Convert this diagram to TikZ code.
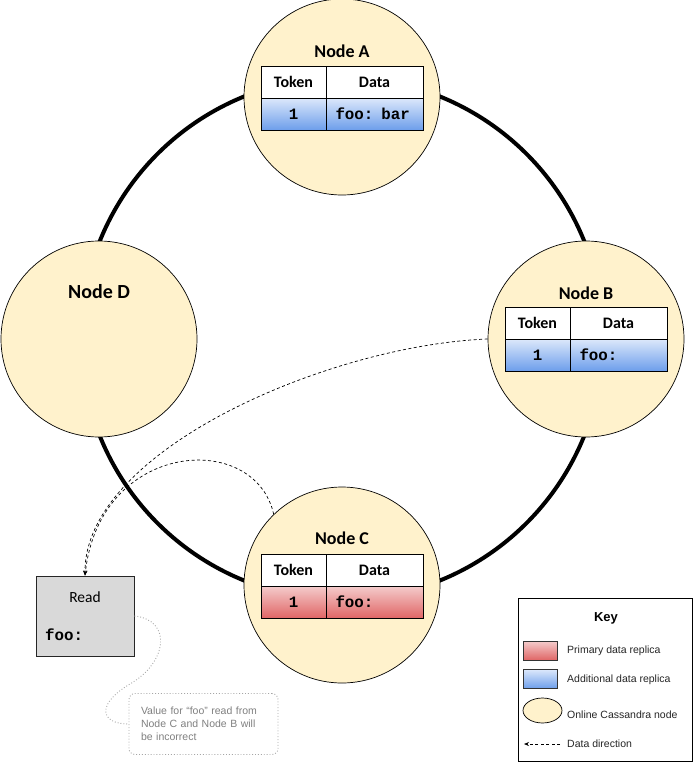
\documentclass[tikz,border=0pt]{standalone}
\usepackage{fontspec}
\setmainfont{Carlito}
\setmonofont{Liberation Mono}
\newfontfamily\arialf{Liberation Sans}
\usetikzlibrary{arrows.meta,shapes.geometric}
\definecolor{nodefill}{HTML}{FFF2CC}
\definecolor{bluetop}{HTML}{DCE8FB}
\definecolor{bluebot}{HTML}{6D9EEB}
\definecolor{redtop}{HTML}{F4CCCC}
\definecolor{redbot}{HTML}{E06666}
\definecolor{readfill}{HTML}{D9D9D9}
\definecolor{notegray}{HTML}{7F7F7F}
\definecolor{dotgray}{HTML}{A6A6A6}
\begin{document}
\begin{tikzpicture}[x=1pt,y=-1pt,
  ring/.style={line width=4pt,draw=black},
  cnode/.style={circle,draw=black,line width=0.7pt,fill=nodefill,minimum size=196pt,inner sep=0pt},
  ntitle/.style={font=\fontsize{18}{20}\selectfont\bfseries},
  hcell/.style={draw=black,line width=0.8pt,fill=white,minimum height=32pt,inner sep=0pt,font=\fontsize{16}{18}\selectfont\bfseries},
  tokw/.style={minimum width=65pt},
  dataw/.style={minimum width=97pt},
  vcell/.style={draw=black,line width=0.8pt,minimum height=32pt,inner sep=0pt,font=\fontsize{15.8}{17}\selectfont\ttfamily\bfseries},
  dcell/.style={vcell,minimum width=97pt,text width=78pt,align=left,inner xsep=9.5pt},
  bluerow/.style={top color=bluetop,bottom color=bluebot},
  redrow/.style={top color=redtop,bottom color=redbot},
  flow/.style={draw=black,line width=0.7pt,dash pattern=on 3pt off 2.5pt,-{Stealth[length=5pt,width=4pt]}},
  noteline/.style={draw=dotgray,line width=0.9pt,dotted},
  readbox/.style={draw=black!85,line width=0.9pt,fill=readfill,minimum width=98pt,minimum height=80pt,inner sep=0pt},
  notebox/.style={draw=dotgray,line width=0.9pt,dotted,rounded corners=6pt,minimum width=149pt,minimum height=61pt,text width=125pt,align=left,inner xsep=12pt,text=notegray,font=\arialf\fontsize{10.5}{13}\selectfont},
  keybox/.style={draw=black,line width=0.8pt,fill=white,minimum width=174pt,minimum height=163pt,inner sep=0pt},
  keytext/.style={anchor=west,inner sep=0pt,font=\arialf\fontsize{10.5}{12}\selectfont,text=black!85},
  swatch/.style={draw=black!80,line width=0.7pt,minimum width=34pt,minimum height=19pt,inner sep=0pt}
]
\useasboundingbox (0,0) rectangle (694,763);

% ring
\coordinate (ringc) at (342,338.5);
\draw[ring] (ringc) circle[radius=261];

% nodes
\node[cnode] (A) at (342,97) {};
\node[cnode] (B) at (586,339) {};
\node[cnode] (C) at (342,585) {};
\node[cnode] (D) at (99,339) {};

\node[ntitle] (A-t) at (342,51) {Node A};
\node[ntitle] (B-t) at (586,293) {Node B};
\node[ntitle] (C-t) at (342,538) {Node C};
\node[font=\fontsize{20}{22}\selectfont\bfseries] (D-t) at (99,292) {Node D};

% table A
\node[hcell,tokw] (A-h1) at (293.5,82) {Token};
\node[hcell,dataw] (A-h2) at (374.5,82) {Data};
\node[vcell,tokw,bluerow] (A-v1) at (293.5,114) {1};
\node[dcell,bluerow] (A-v2) at (374.5,114) {foo: bar};

% table B
\node[hcell,tokw] (B-h1) at (537.5,323) {Token};
\node[hcell,dataw] (B-h2) at (618.5,323) {Data};
\node[vcell,tokw,bluerow] (B-v1) at (537.5,355) {1};
\node[dcell,bluerow] (B-v2) at (618.5,355) {foo:};

% table C
\node[hcell,tokw] (C-h1) at (293.5,570) {Token};
\node[hcell,dataw] (C-h2) at (374.5,570) {Data};
\node[vcell,tokw,redrow] (C-v1) at (293.5,602) {1};
\node[dcell,redrow] (C-v2) at (374.5,602) {foo:};

% read box
\node[readbox] (read) at (85,616) {};
\node[font=\fontsize{15.5}{17}\selectfont] (read-t) at (85,597) {Read};
\node[anchor=west,inner sep=0pt,font=\fontsize{15.8}{17}\selectfont\ttfamily\bfseries] (read-v) at (45,635) {foo:};

% data flows
\draw[flow] (B.west) .. controls (330,345) and (84,450) .. (read.north);
\draw[flow] (C.134) .. controls (255,430) and (100,440) .. (read.north);

% note
\node[notebox] (note) at (203.5,724) {Value for “foo” read from\\Node C and Node B will\\be incorrect};
\draw[noteline] (read.east) .. controls (172,620) and (168,662) .. (130,684) .. controls (96,704) and (100,724) .. (note.west);

% key
\node[keybox] (key) at (605,679.5) {};
\node[font=\arialf\fontsize{13}{15}\selectfont\bfseries] (key-t) at (606,618) {Key};
\node[swatch,redrow] (k-red) at (540,650.5) {};
\node[keytext] (k-red-t) at (567,651) {Primary data replica};
\node[swatch,bluerow] (k-blue) at (540,679) {};
\node[keytext] (k-blue-t) at (567,680) {Additional data replica};
\node[ellipse,draw=black,line width=0.7pt,fill=nodefill,minimum width=39pt,minimum height=25pt,inner sep=0pt] (k-ell) at (542.5,710.5) {};
\node[keytext] (k-ell-t) at (567,715) {Online Cassandra node};
\coordinate (k-as) at (560,744);
\coordinate (k-ae) at (524,744);
\draw[flow] (k-as) -- (k-ae);
\node[keytext] (k-arr-t) at (567,744) {Data direction};
\end{tikzpicture}
\end{document}
